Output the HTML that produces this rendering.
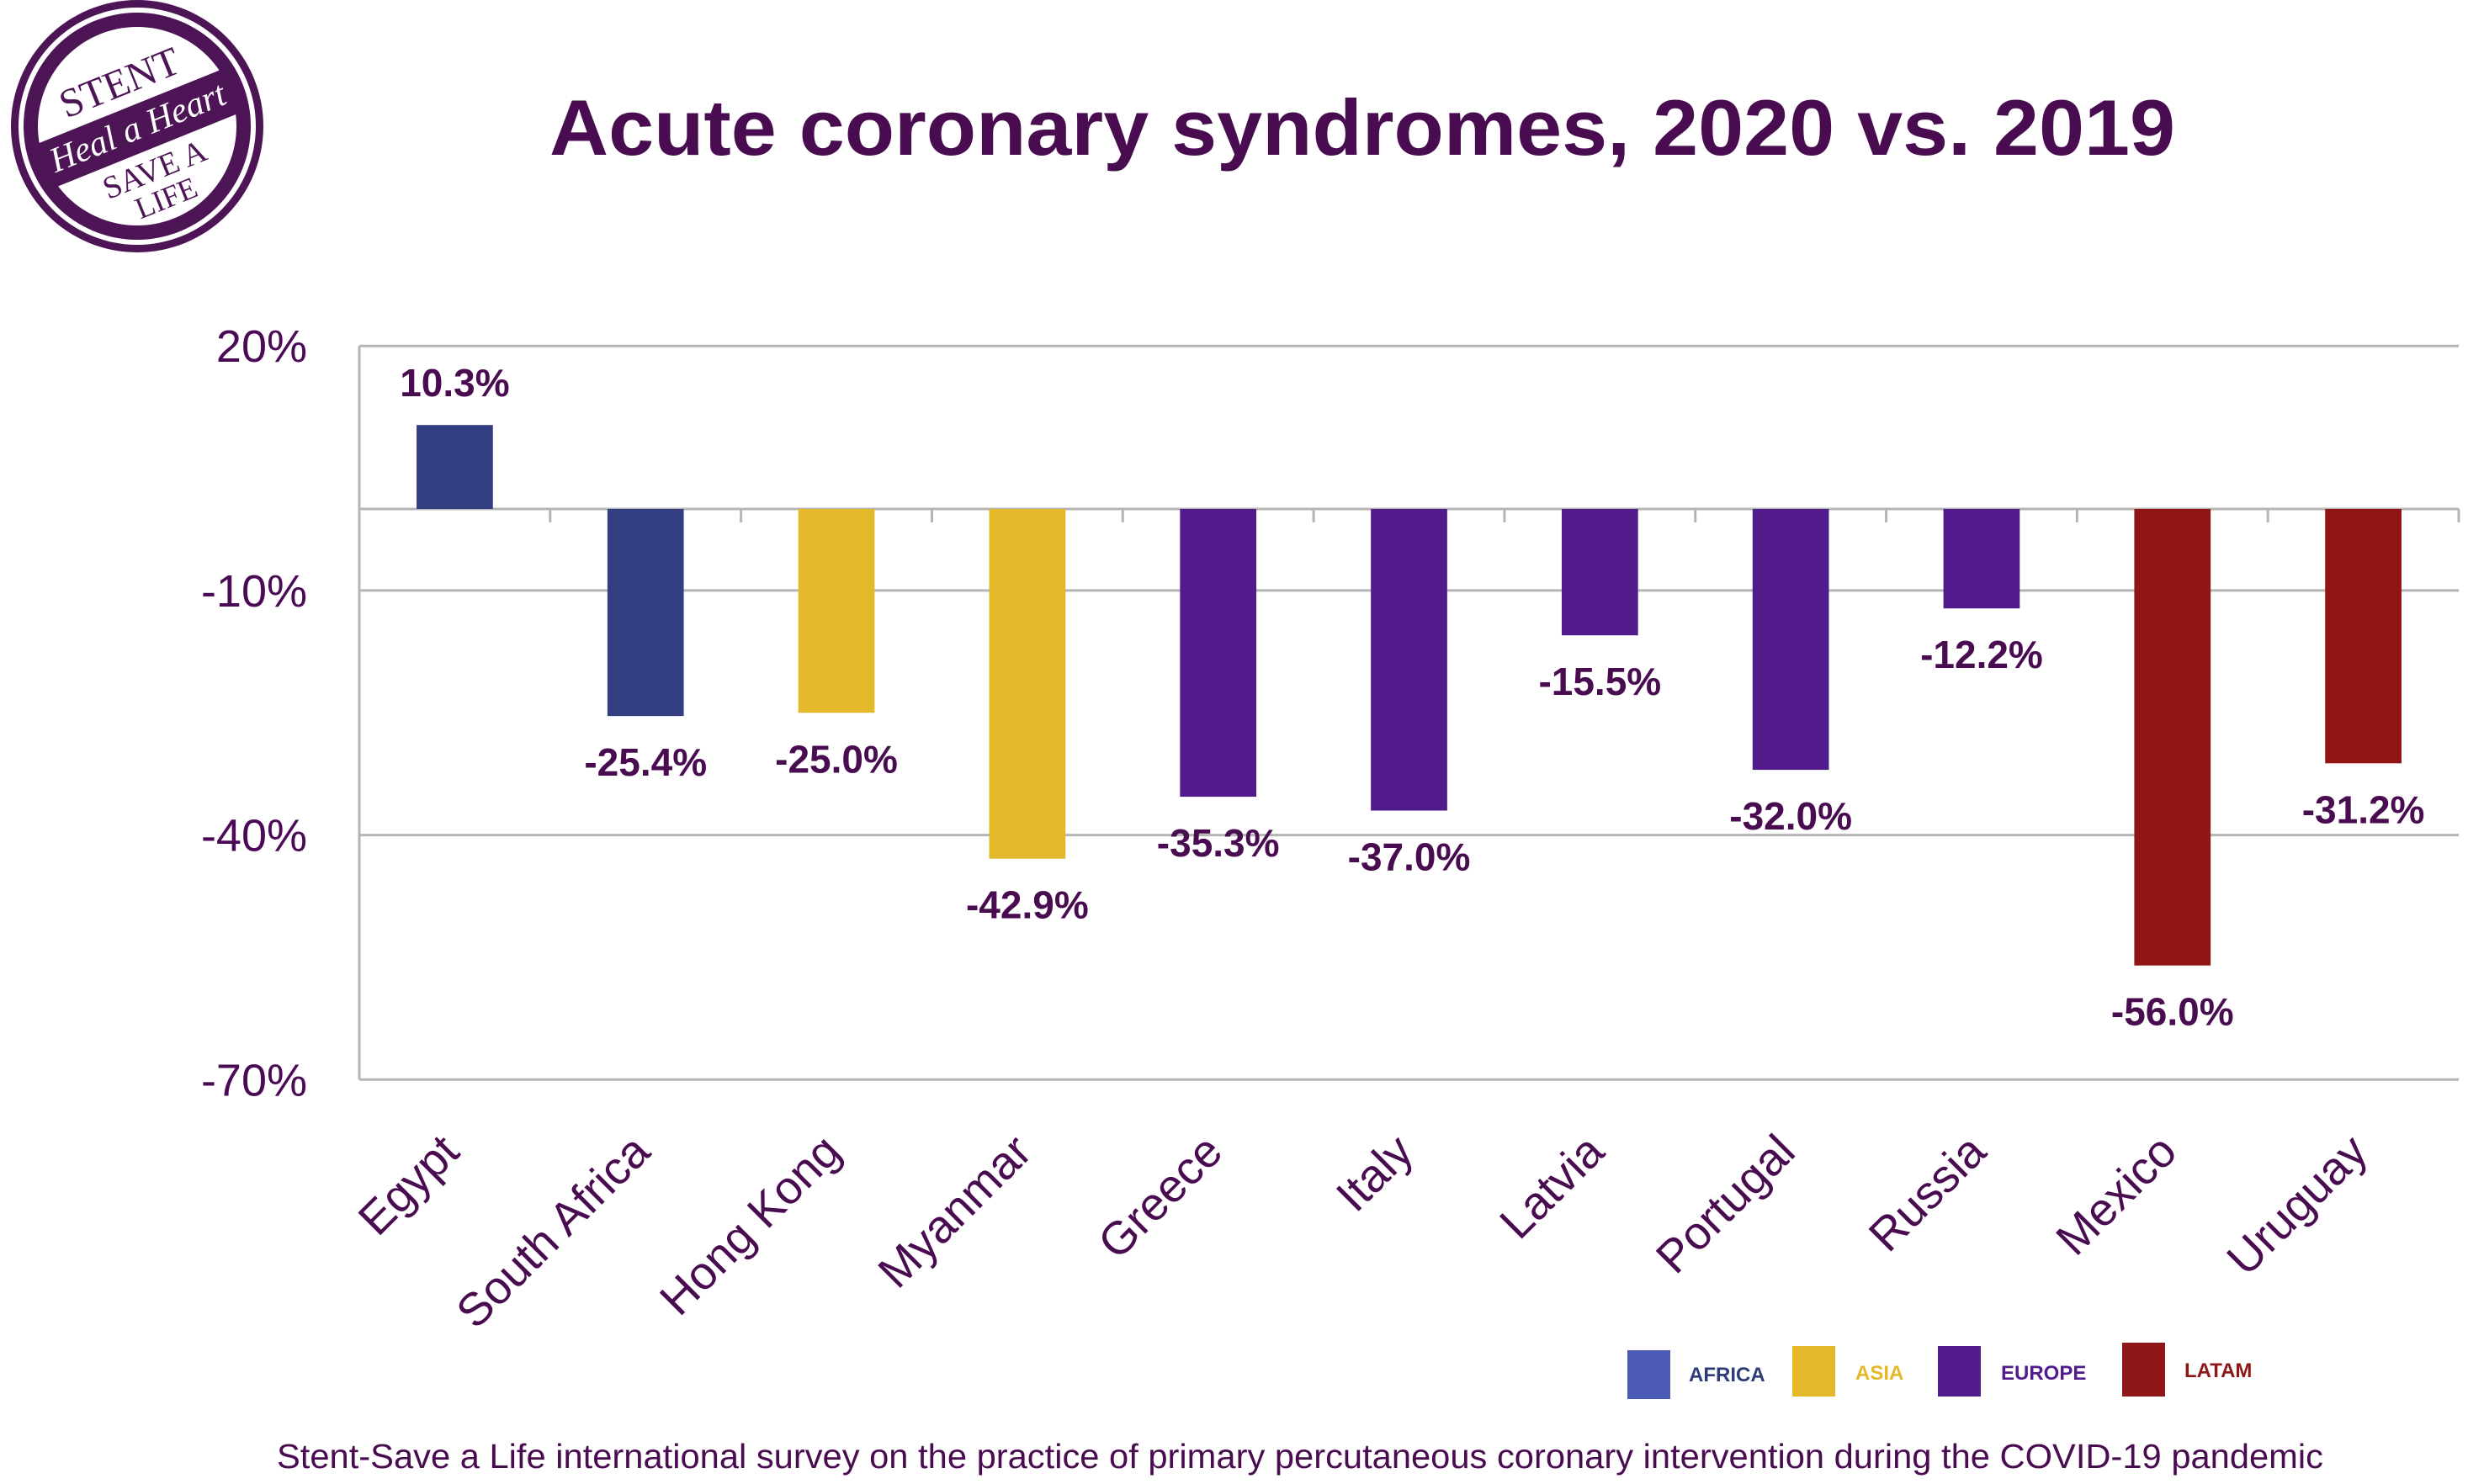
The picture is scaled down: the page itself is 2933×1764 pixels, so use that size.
<!DOCTYPE html>
<html><head><meta charset="utf-8"><style>
html,body{margin:0;padding:0;background:#fff;}
svg{display:block;}
</style></head><body>
<svg id="chart" width="2933" height="1764" viewBox="0 0 2933 1764" xmlns="http://www.w3.org/2000/svg">
  <g>
    <circle cx="163" cy="150" r="150" fill="#4d1556"/>
    <circle cx="163" cy="150" r="141" fill="#fff"/>
    <circle cx="163" cy="150" r="135" fill="#4d1556"/>
    <circle cx="163" cy="150" r="118" fill="#fff"/>
    <g transform="rotate(-22 163 150)">
      <rect x="40" y="125" width="250" height="56" fill="#4d1556"/>
      <text x="163" y="110" text-anchor="middle" font-family="Liberation Serif, serif" font-size="48" fill="#4d1556">STENT</text>
      <text x="163" y="165" text-anchor="middle" font-family="Liberation Serif, serif" font-style="italic" font-size="42" fill="#fff">Heal a Heart</text>
      <text x="163" y="218" text-anchor="middle" font-family="Liberation Serif, serif" font-size="38" fill="#4d1556">SAVE A</text>
      <text x="163" y="254" text-anchor="middle" font-family="Liberation Serif, serif" font-size="36" fill="#4d1556">LIFE</text>
    </g>
  </g>
  <text x="1619" y="184" text-anchor="middle" textLength="1932" lengthAdjust="spacingAndGlyphs" font-family="Liberation Sans, sans-serif" font-weight="bold" font-size="94" fill="#4a0c50">Acute coronary syndromes, 2020 vs. 2019</text>
  <g id="grid"></g>
  <g id="bars"></g>
  <g id="labels"></g>
  <g>
    <rect x="1934" y="1605" width="51" height="58" fill="#4a5ab5"/>
    <text x="2007" y="1642" font-family="Liberation Sans, sans-serif" font-weight="bold" font-size="24" fill="#2d3c78">AFRICA</text>
    <rect x="2130" y="1600" width="51" height="60" fill="#e5b82a"/>
    <text x="2205" y="1640" font-family="Liberation Sans, sans-serif" font-weight="bold" font-size="24" fill="#e5b82a">ASIA</text>
    <rect x="2303" y="1600" width="51" height="60" fill="#521c8c"/>
    <text x="2378" y="1640" font-family="Liberation Sans, sans-serif" font-weight="bold" font-size="24" fill="#521c8c">EUROPE</text>
    <rect x="2522" y="1596" width="51" height="64" fill="#8f1616"/>
    <text x="2596" y="1637" font-family="Liberation Sans, sans-serif" font-weight="bold" font-size="24" fill="#8f1616">LATAM</text>
  </g>
  <text x="1545" y="1745" text-anchor="middle" textLength="2432" lengthAdjust="spacingAndGlyphs" font-family="Liberation Sans, sans-serif" font-size="41" fill="#4a0c50">Stent-Save a Life international survey on the practice of primary percutaneous coronary intervention during the COVID-19 pandemic</text>
</svg>
<script>
const categories = ["Egypt","South Africa","Hong Kong","Myanmar","Greece","Italy","Latvia","Portugal","Russia","Mexico","Uruguay"];
const values = [10.3,-25.4,-25.0,-42.9,-35.3,-37.0,-15.5,-32.0,-12.2,-56.0,-31.2];
const regions = ["AFRICA","AFRICA","ASIA","ASIA","EUROPE","EUROPE","EUROPE","EUROPE","EUROPE","LATAM","LATAM"];
const yTicks = [20,-10,-40,-70];
const yTickLabels = ["20%","-10%","-40%","-70%"];

const NS = "http://www.w3.org/2000/svg";
const colors = {AFRICA:"#333f80", ASIA:"#e3b82a", EUROPE:"#521b8b", LATAM:"#921515"};
const plotL = 427, plotR = 2922, y0 = 605, yPer10 = 96.9;
const band = (plotR - plotL) / categories.length;
function y(v){ return y0 - v * yPer10 / 10; }
function xc(i){ return plotL + band * (i + 0.5); }
function mk(tag, attrs, parent){ const e = document.createElementNS(NS, tag); for (const k in attrs) e.setAttribute(k, attrs[k]); parent.appendChild(e); return e; }

const grid = document.getElementById('grid');
const bars = document.getElementById('bars');
const labels = document.getElementById('labels');

yTicks.forEach((t, i) => {
  const l = mk('line', {x1: plotL, x2: plotR, y1: y(t), y2: y(t), stroke: '#b5b5b5', 'stroke-width': 3}, grid);
  
  
  const tx = mk('text', {x: 365, y: y(t) + 19, 'text-anchor': 'end', 'font-family': 'Liberation Sans, sans-serif', 'font-size': 54, fill: '#4b0a55'}, grid);
  tx.textContent = yTickLabels[i];
  
  
});
const ax = mk('line', {x1: plotL, x2: plotL, y1: y(20), y2: y(-70), stroke: '#b5b5b5', 'stroke-width': 3}, grid);


const zl = mk('line', {x1: plotL, x2: plotR, y1: y(0), y2: y(0), stroke: '#b5b5b5', 'stroke-width': 3}, grid);


for (let i = 0; i <= categories.length; i++) {
  const tk = mk('line', {x1: plotL + band * i, x2: plotL + band * i, y1: y(0), y2: y(0) + 16, stroke: '#b5b5b5', 'stroke-width': 3}, grid);
  
  
}

categories.forEach((c, i) => {
  const v = values[i];
  const w = band * 0.4;
  const top = Math.min(y(v), y(0)), h = Math.abs(y(v) - y(0));
  const r = mk('rect', {x: xc(i) - w / 2, y: top, width: w, height: h, fill: colors[regions[i]]}, bars);
  
  
  const ly = v >= 0 ? y(v) - 34 : y(v) + 71;
  const vl = mk('text', {x: xc(i), y: ly, 'text-anchor': 'middle', 'font-family': 'Liberation Sans, sans-serif', 'font-weight': 'bold', 'font-size': 46, fill: '#4a0c50'}, labels);
  vl.textContent = v.toFixed(1) + '%';
  
  
  const ax = xc(i) + 8, ay = 1372;
  const cl = mk('text', {x: ax, y: ay, 'text-anchor': 'end', transform: 'rotate(-45 ' + ax + ' ' + ay + ')', 'font-family': 'Liberation Sans, sans-serif', 'font-size': 55, fill: '#4a0c50'}, labels);
  cl.textContent = c;
  
  
});
</script>
</body></html>
